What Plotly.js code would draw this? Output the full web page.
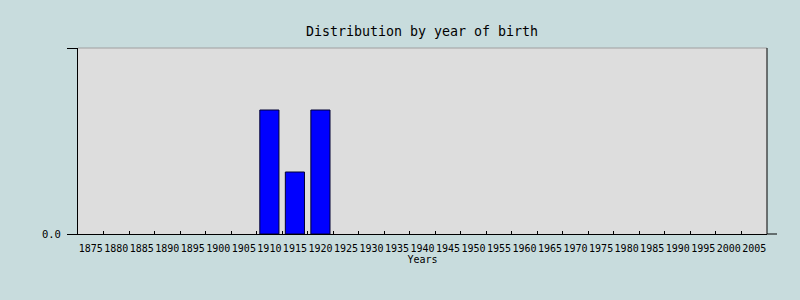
<!DOCTYPE html>
<html>
<head>
<meta charset="utf-8">
<script src="https://cdn.plot.ly/plotly-3.0.1.min.js"></script>
<style>html,body{margin:0;padding:0;background:#c8dcdd;}</style>
</head>
<body>
<div id="chart" style="width:800px;height:300px;"></div>
<script>
const years = ["1875","1880","1885","1890","1895","1900","1905","1910","1915","1920","1925","1930","1935","1940","1945","1950","1955","1960","1965","1970","1975","1980","1985","1990","1995","2000","2005"];
const counts = [0,0,0,0,0,0,0,2,1,2,0,0,0,0,0,0,0,0,0,0,0,0,0,0,0,0,0];
const yTickVals = [0, 3];
const yTickText = ["0.0", ""];

const mono = "DejaVu Sans Mono, monospace";
const trace = {
  type: "bar",
  x: years,
  y: counts.map(v => (v === 0 ? null : v)),
  marker: {color: "#0000ff", line: {color: "#000033", width: 1}},
  hoverinfo: "x+y"
};
const layout = {
  width: 800, height: 300,
  paper_bgcolor: "#c8dcdd",
  plot_bgcolor: "#dddddd",
  margin: {l: 78, r: 33, t: 48, b: 66},
  bargap: 0.25,
  showlegend: false,
  title: {text: "Distribution by year of birth", font: {family: mono, size: 13.3, color: "#000"}, x: 0.5275, xanchor: "center", y: 0.895, yanchor: "middle"},
  xaxis: {
    type: "category",
    tickson: "boundaries",
    ticks: "inside", ticklen: 3, tickcolor: "#000",
    showline: true, linecolor: "#000", linewidth: 1, mirror: false,
    showgrid: false, zeroline: false,
    tickangle: 0,
    tickfont: {family: mono, size: 10, color: "#000"},
    ticklabelstandoff: 5,
    title: {text: "Years", font: {family: mono, size: 10, color: "#000"}, standoff: 1}
  },
  yaxis: {
    range: [0, 3],
    tickvals: yTickVals, ticktext: yTickText,
    ticks: "outside", ticklen: 10, tickcolor: "#000",
    showline: true, linecolor: "#000", linewidth: 1,
    showgrid: false, zeroline: false,
    tickfont: {family: mono, size: 10.5, color: "#000"},
    ticklabelstandoff: 4
  },
  shapes: [
    {type: "line", xref: "paper", yref: "paper", x0: 0, x1: 1, y0: 1, y1: 1, line: {color: "#a0a0a0", width: 1}},
    {type: "line", xref: "paper", yref: "paper", x0: 1, x1: 1, y0: 0, y1: 1, line: {color: "#000", width: 1}},
    {type: "line", xref: "paper", yref: "paper", x0: 1, x1: 1 + 10/689, y0: 0, y1: 0, line: {color: "#000", width: 1}}
  ]
};
Plotly.newPlot("chart", [trace], layout, {displayModeBar: false, staticPlot: true});
</script>
</body>
</html>
